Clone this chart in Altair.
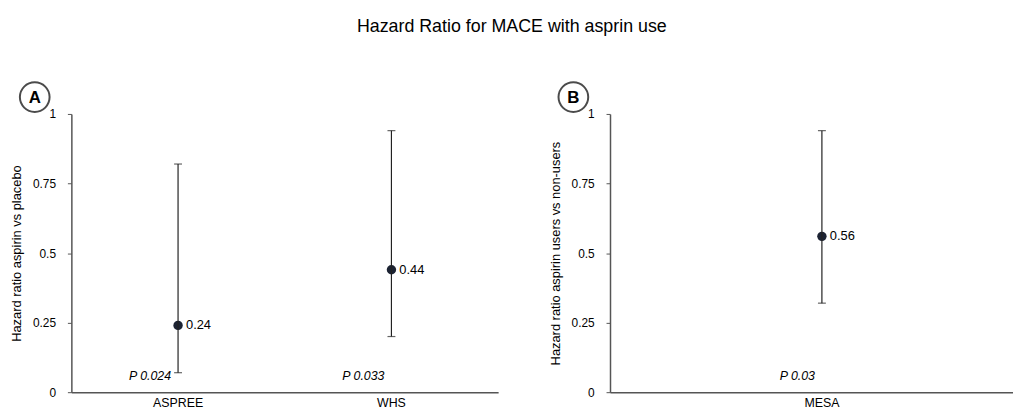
import altair as alt
import pandas as pd

# Panel A data
studies_a = ["ASPREE", "WHS"]
hr_a = [0.24, 0.44]
lo_a = [0.07, 0.20]
hi_a = [0.82, 0.94]
p_a = ["P 0.024", "P 0.033"]

# Panel B data
studies_b = ["MESA"]
hr_b = [0.56]
lo_b = [0.32]
hi_b = [0.94]
p_b = ["P 0.03"]

title_text = "Hazard Ratio for MACE with asprin use"
ytitle_a = "Hazard ratio aspirin vs placebo"
ytitle_b = "Hazard ratio aspirin users vs non-users"
y_ticks = [0, 0.25, 0.5, 0.75, 1]

FONT = "Liberation Sans"
PH = 281


def panel(studies, hr, lo, hi, pv, ytitle, letter, width, pad_outer=0.0, align=0.5):
    df = pd.DataFrame({"study": studies, "hr": hr, "lo": lo, "hi": hi, "p": pv,
                       "lab": [f"{v:.2f}" for v in hr]})
    base = alt.Chart(df)
    x = alt.X("study:N", sort=studies, title=None,
              scale=alt.Scale(domain=studies, paddingInner=0, paddingOuter=pad_outer,
                              align=align),
              axis=alt.Axis(labelAngle=0, ticks=False, labelPadding=4, labelFontSize=12.5,
                            labelColor="#000", labelFont=FONT, domainColor="#555",
                            domainWidth=1.5, grid=False))
    y = alt.Y("hr:Q", title=ytitle,
              scale=alt.Scale(domain=[0, 1], nice=False, zero=True),
              axis=alt.Axis(values=y_ticks, labelExpr="'' + datum.value", tickSize=4,
                            tickColor="#555", domainColor="#555", domainWidth=1.5,
                            labelPadding=12, labelFontSize=12, labelColor="#000",
                            labelFont=FONT, titleFont=FONT, titleFontSize=13,
                            titleFontWeight="normal", titleColor="#000",
                            titlePadding=9, grid=False))
    rule = base.mark_rule(color="#222", strokeWidth=1.2).encode(
        x=x, y=alt.Y("lo:Q", title=ytitle), y2="hi:Q")
    cap_lo = base.mark_tick(color="#222", size=8, thickness=1.2).encode(
        x=x, y=alt.Y("lo:Q"))
    cap_hi = base.mark_tick(color="#222", size=8, thickness=1.2).encode(
        x=x, y=alt.Y("hi:Q"))
    pts = base.mark_point(filled=True, size=90, color="#1c2333", opacity=1).encode(
        x=x, y=y)
    lab = base.mark_text(align="left", baseline="middle", dx=8, fontSize=13,
                         font=FONT, color="#000").encode(
        x=x, y="hr:Q", text="lab:N")
    ptxt = base.mark_text(align="right", baseline="middle", dx=-7, fontSize=12.5,
                          font=FONT, fontStyle="italic", color="#000").encode(
        x=x, y=alt.value(PH - 16), text="p:N")
    letter_df = pd.DataFrame({"t": [letter]})
    circ = alt.Chart(letter_df).mark_point(shape="circle", filled=False, size=900,
                                            color="#000", strokeWidth=2).encode(
        x=alt.value(-37), y=alt.value(-17))
    ltxt = alt.Chart(letter_df).mark_text(fontSize=17, fontWeight="bold", font=FONT,
                                          color="#000", baseline="middle").encode(
        x=alt.value(-37), y=alt.value(-16), text="t:N")
    return alt.layer(pts, rule, cap_lo, cap_hi, lab, ptxt, circ, ltxt).properties(
        width=width, height=PH)


pa = panel(studies_a, hr_a, lo_a, hi_a, p_a, ytitle_a, "A", 431)
pb = panel(studies_b, hr_b, lo_b, hi_b, p_b, ytitle_b, "B", 407,
           pad_outer=0.5, align=0.5516)

chart = alt.hconcat(pa, pb, spacing=51).properties(
    title=alt.TitleParams(title_text, fontSize=18, font=FONT, fontWeight="normal",
                          color="#000", anchor="middle", offset=43)
).configure_view(stroke=None).properties(padding={"left": 2, "top": 8, "right": 0, "bottom": 0})

chart.save("out.html", embed_options={"renderer": "svg", "actions": False})
